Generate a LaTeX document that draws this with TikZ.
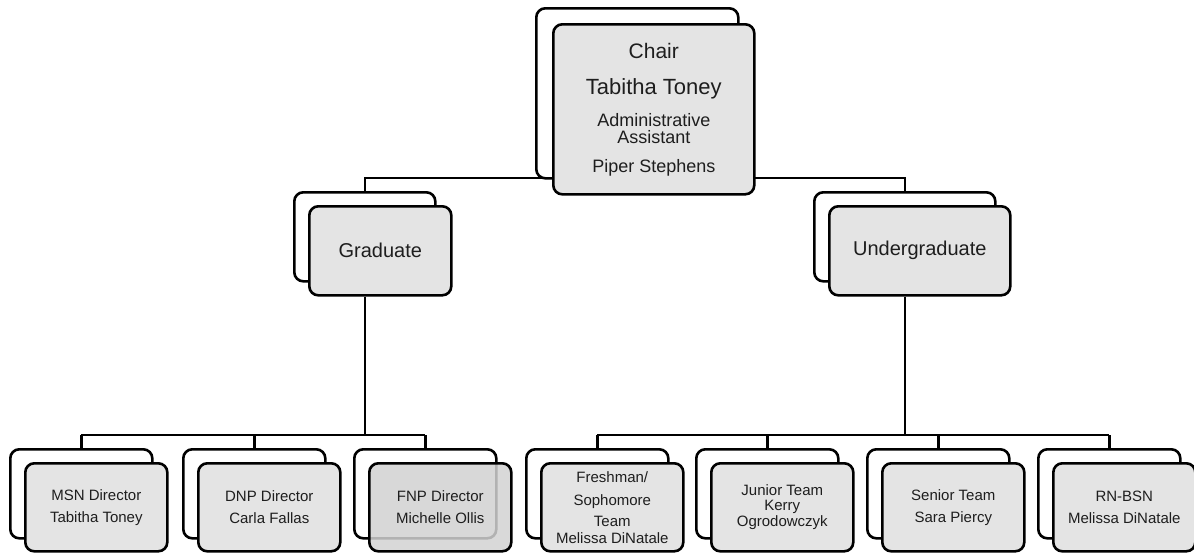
\documentclass[tikz,border=0pt]{standalone}
\usepackage{fontspec}
\setmainfont{Liberation Sans}
\usetikzlibrary{backgrounds}
\definecolor{cardgray}{HTML}{E4E4E4}
\definecolor{carddark}{HTML}{D2D2D2}
\definecolor{inkgray}{HTML}{1E1E1E}
\tikzset{
  card/.style={draw=black, line width=2.6pt, rounded corners=9pt, anchor=north west,
    inner sep=0pt, align=center, text=inkgray},
  backcard/.style={card, fill=white},
  frontcard/.style={card, fill=cardgray},
  bigtext/.style={font=\fontsize{20}{24}\selectfont},
  smalltext/.style={font=\fontsize{15}{22}\selectfont},
  link/.style={line width=2.6pt},
}
\begin{document}
\lineskiplimit=-20pt\relax
\begin{tikzpicture}[x=1pt, y=-1pt]
\useasboundingbox (0,0) rectangle (1194,552);

% chair
\node[backcard, minimum width=202pt, minimum height=170pt] (chair-back) at (535,7) {};
\node[frontcard, minimum width=201pt, minimum height=170pt,
  font=\fontsize{18}{17}\selectfont] (chair) at (552,23)
  {{\fontsize{21}{21}\selectfont Chair}\\[19pt]
   {\fontsize{22}{22}\selectfont Tabitha Toney}\\[15pt]
   Administrative\\
   Assistant\\[12pt]
   Piper Stephens};

% programs
\node[backcard, minimum width=141pt, minimum height=89pt] (grad-back) at (293,191) {};
\node[frontcard, bigtext, minimum width=142pt, minimum height=89pt] (grad) at (308,205) {Graduate};
\node[backcard, minimum width=181pt, minimum height=89pt] (ugrad-back) at (813,191) {};
\node[frontcard, bigtext, minimum width=181pt, minimum height=89pt] (ugrad) at (828,205) {Undergraduate};

% teams
\foreach \n/\x in {msn/9, dnp/182, fnp/353, fresh/525, junior/695, senior/866, rnbsn/1037}
{
    \node[backcard, minimum width=142pt, minimum height=89pt] (\n-back) at (\x,448) {};
}
\node[frontcard, smalltext, minimum width=142pt, minimum height=88pt] (msn) at (24,462)
  {MSN Director\\Tabitha Toney};
\node[frontcard, smalltext, minimum width=142pt, minimum height=88pt] (dnp) at (197,462)
  {DNP Director\\Carla Fallas};
\node[frontcard, smalltext, minimum width=142pt, minimum height=88pt, fill=carddark,
  fill opacity=0.85, text opacity=1] (fnp) at (368,462)
  {FNP Director\\Michelle Ollis};
\node[frontcard, smalltext, minimum width=142pt, minimum height=88pt] (fresh) at (540,462)
  {Freshman/\\[1pt]Sophomore\\[-1pt]Team\\[-5pt]Melissa DiNatale};
\node[frontcard, smalltext, minimum width=142pt, minimum height=88pt] (junior) at (710,462)
  {Junior Team\\[-7pt]Kerry\\[-6pt]Ogrodowczyk};
\node[frontcard, smalltext, minimum width=142pt, minimum height=88pt] (senior) at (881,462)
  {Senior Team\\Sara Piercy};
\node[frontcard, smalltext, minimum width=142pt, minimum height=88pt] (rnbsn) at (1052,462)
  {RN-BSN\\Melissa DiNatale};

% connectors
\begin{scope}[on background layer]
\coordinate (topbus) at (0,178);
\coordinate (lowbus) at (0,435);
\draw[link] (grad-back.north) -- (grad-back.north |- topbus) -- (ugrad-back.north |- topbus) -- (ugrad-back.north);
\draw[link] (grad-back.center |- grad.south) -- (grad-back.center |- lowbus);
\draw[link] (ugrad-back.center |- ugrad.south) -- (ugrad-back.center |- lowbus);
\draw[link] (msn-back.north |- lowbus) -- (fnp-back.north |- lowbus);
\draw[link] (fresh-back.north |- lowbus) -- (rnbsn-back.north |- lowbus);
\foreach \n in {msn,dnp,fnp,fresh,junior,senior,rnbsn}
{
    \draw[link] (\n-back.north) -- (\n-back.north |- lowbus);
}
\end{scope}
\end{tikzpicture}
\end{document}
